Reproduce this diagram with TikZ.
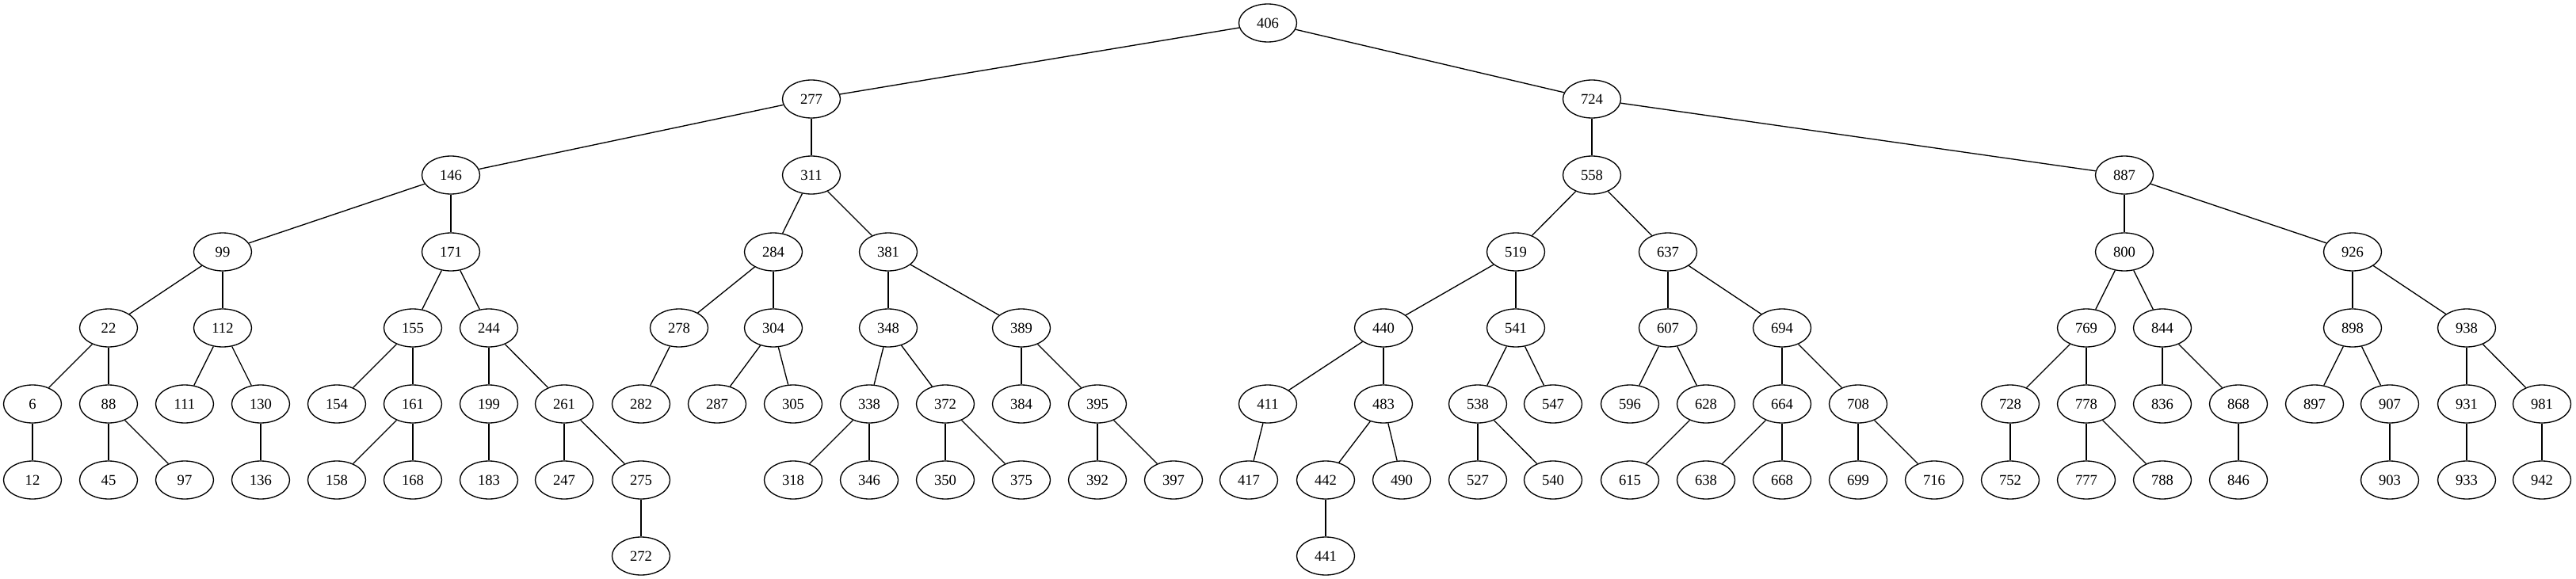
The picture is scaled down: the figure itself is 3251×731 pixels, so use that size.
\documentclass[tikz,border=0pt]{standalone}
\usepackage{fontspec}
\setmainfont{Liberation Serif}
\usetikzlibrary{shapes.geometric}
\tikzset{
  tn/.style={draw, ellipse, line width=1pt, inner sep=0pt, minimum width=54.75pt, minimum height=36pt, font=\fontsize{14}{16}\selectfont},
  te/.style={line width=1pt}
}
\begin{document}
\begin{tikzpicture}[x=0.75pt, y=-0.75pt]
\useasboundingbox (0,0) rectangle (3251,731);
% level 0..7 y: 29,125,221,318,414,510,606,702
\foreach \n/\x/\y in {
  406/1600/29,
  277/1024/125, 724/2009/125,
  146/569/221, 311/1024/221, 558/2009/221, 887/2681/221,
  99/281/318, 171/569/318, 284/976/318, 381/1121/318, 519/1913/318, 637/2105/318, 800/2681/318, 926/2969/318,
  22/137/414, 112/281/414, 155/521/414, 244/617/414, 278/857/414, 304/976/414, 348/1121/414, 389/1289/414,
  440/1746/414, 541/1913/414, 607/2105/414, 694/2249/414, 769/2633/414, 844/2729/414, 898/2969/414, 938/3113/414,
  6/41/510, 88/137/510, 111/233/510, 130/329/510, 154/425/510, 161/521/510, 199/617/510, 261/712/510,
  282/809/510, 287/905/510, 305/1001/510, 338/1097/510, 372/1193/510, 384/1289/510, 395/1385/510,
  411/1600/510, 483/1746/510, 538/1865/510, 547/1960/510, 596/2057/510, 628/2153/510, 664/2249/510, 708/2345/510,
  728/2537/510, 778/2633/510, 836/2729/510, 868/2825/510, 897/2921/510, 907/3016/510, 931/3113/510, 981/3208/510,
  12/41/606, 45/137/606, 97/233/606, 136/329/606, 158/425/606, 168/521/606, 183/617/606, 247/712/606, 275/809/606,
  318/1001/606, 346/1097/606, 350/1193/606, 375/1289/606, 392/1385/606, 397/1481/606, 417/1576/606,
  442/1673/606, 490/1769/606, 527/1865/606, 540/1960/606, 615/2057/606, 638/2153/606, 668/2249/606, 699/2345/606,
  716/2441/606, 752/2537/606, 777/2633/606, 788/2729/606, 846/2825/606, 903/3016/606, 933/3113/606, 942/3208/606,
  272/809/702, 441/1673/702}
  \node[tn] (n\n) at (\x,\y) {\n};
\foreach \a/\b in {
  406/277, 406/724, 277/146, 277/311, 724/558, 724/887,
  146/99, 146/171, 311/284, 311/381, 558/519, 558/637, 887/800, 887/926,
  99/22, 99/112, 171/155, 171/244, 284/278, 284/304, 381/348, 381/389,
  519/440, 519/541, 637/607, 637/694, 800/769, 800/844, 926/898, 926/938,
  22/6, 22/88, 112/111, 112/130, 155/154, 155/161, 244/199, 244/261,
  278/282, 304/287, 304/305, 348/338, 348/372, 389/384, 389/395,
  440/411, 440/483, 541/538, 541/547, 607/596, 607/628, 694/664, 694/708,
  769/728, 769/778, 844/836, 844/868, 898/897, 898/907, 938/931, 938/981,
  6/12, 88/45, 88/97, 130/136, 161/158, 161/168, 199/183, 261/247, 261/275,
  338/318, 338/346, 372/350, 372/375, 395/392, 395/397, 411/417,
  483/442, 483/490, 538/527, 538/540, 628/615, 664/638, 664/668, 708/699, 708/716,
  728/752, 778/777, 778/788, 868/846, 907/903, 931/933, 981/942,
  275/272, 442/441}
  \draw[te] (n\a) -- (n\b);
\end{tikzpicture}
\end{document}
